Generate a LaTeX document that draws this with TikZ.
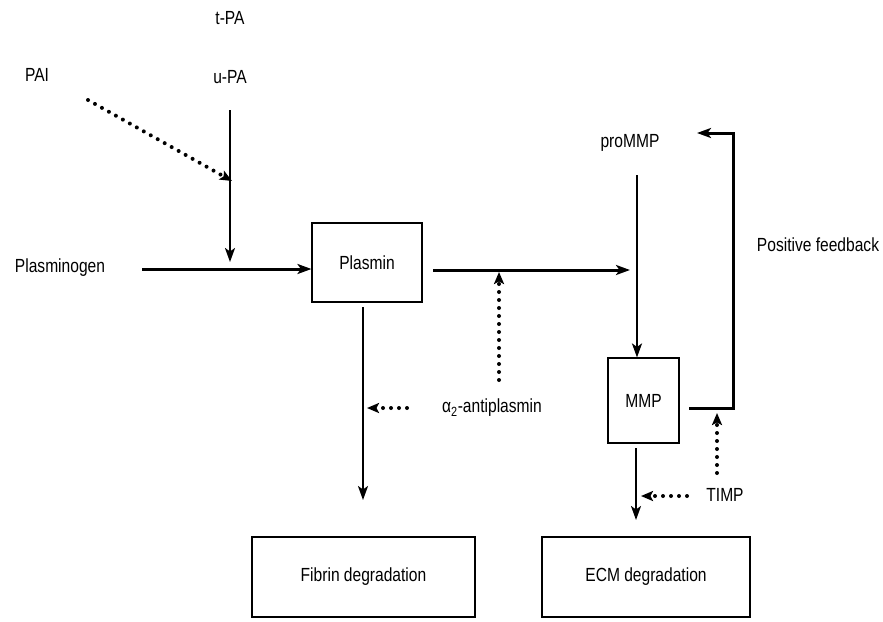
\documentclass[tikz,border=0pt]{standalone}
\usepackage{fontspec}
\setmainfont{Liberation Sans}[FakeStretch=0.82]
\usetikzlibrary{arrows.meta}
\begin{document}
\begin{tikzpicture}[x=1pt,y=-1pt,
  lbl/.style={inner sep=0pt,font=\fontsize{19}{22}\selectfont},
  bx/.style={draw,line width=1.1pt,inner sep=0pt,font=\fontsize{19}{22}\selectfont},
  arr/.style={line width=3pt,-{Stealth[length=14pt,width=10pt,inset=3.5pt]}},
  varr/.style={line width=2.1pt,-{Stealth[length=14pt,width=10pt,inset=3.5pt]}},
  dotarr/.style={line width=4pt,line cap=round,dash pattern=on 0pt off 8pt,-{Stealth[length=12pt,width=10pt,inset=2.5pt]}},
  fb/.style={line width=3pt}]
\useasboundingbox (0,0) rectangle (883,621);
% text nodes
\node[lbl] (tpa) at (230,18) {t-PA};
\node[lbl] (upa) at (230,77) {u-PA};
\node[lbl] (pai) at (37,75) {PAI};
\node[lbl] (plg) at (60,268) {Plasminogen};
\node[lbl] (alpha) at (492,408) {α\textsubscript{2}-antiplasmin};
\node[lbl] (pro) at (630,143) {proMMP};
\node[lbl] (pf) at (818,245) {Positive feedback};
\node[lbl] (timp) at (725,495) {TIMP};
% boxes
\node[bx,minimum width=110pt,minimum height=79pt] (plasmin) at (367,262.5) {Plasmin};
\node[bx,minimum width=71pt,minimum height=85pt] (mmp) at (643.5,400.5) {MMP};
\node[bx,minimum width=223pt,minimum height=80pt] (fibrin) at (363.5,577) {Fibrin degradation};
\node[bx,minimum width=208pt,minimum height=80pt] (ecm) at (646,577) {ECM degradation};
% junction coordinates
\coordinate (j1) at (230,262);
\coordinate (j2) at (232,181);
\coordinate (j3) at (630,270);
\coordinate (j4) at (499,272);
\coordinate (j5) at (367,408);
\coordinate (j6) at (363,500);
\coordinate (j7) at (636,520);
\coordinate (j8) at (641,496);
\coordinate (j9) at (717,413);
\coordinate (fbr) at (733,408);
\coordinate (fbt) at (733,133);
\coordinate (fbe) at (697,133);
% connectors
\draw[varr] (upa.south |- 0,110) -- (j1);
\draw[dotarr] (88,100) -- (j2);
\draw[arr] (142,269) -- (plasmin.west |- 0,269);
\draw[fb] (433,270) -- (600,270);
\draw[arr] (600,270) -- (j3);
\draw[dotarr] (499,380) -- (j4);
\draw[varr] (363,307) -- (j6);
\draw[dotarr] (407,408) -- (j5);
\draw[varr] (637,175) -- (mmp.north -| 637,0);
\draw[fb,-{Stealth[length=14pt,width=10pt,inset=3.5pt]}] (689,408) -- (fbr) -- (fbt) -- (fbe);
\draw[dotarr] (717,473) -- (j9);
\draw[varr] (636,448) -- (j7);
\draw[dotarr] (687,496) -- (j8);
\end{tikzpicture}
\end{document}
